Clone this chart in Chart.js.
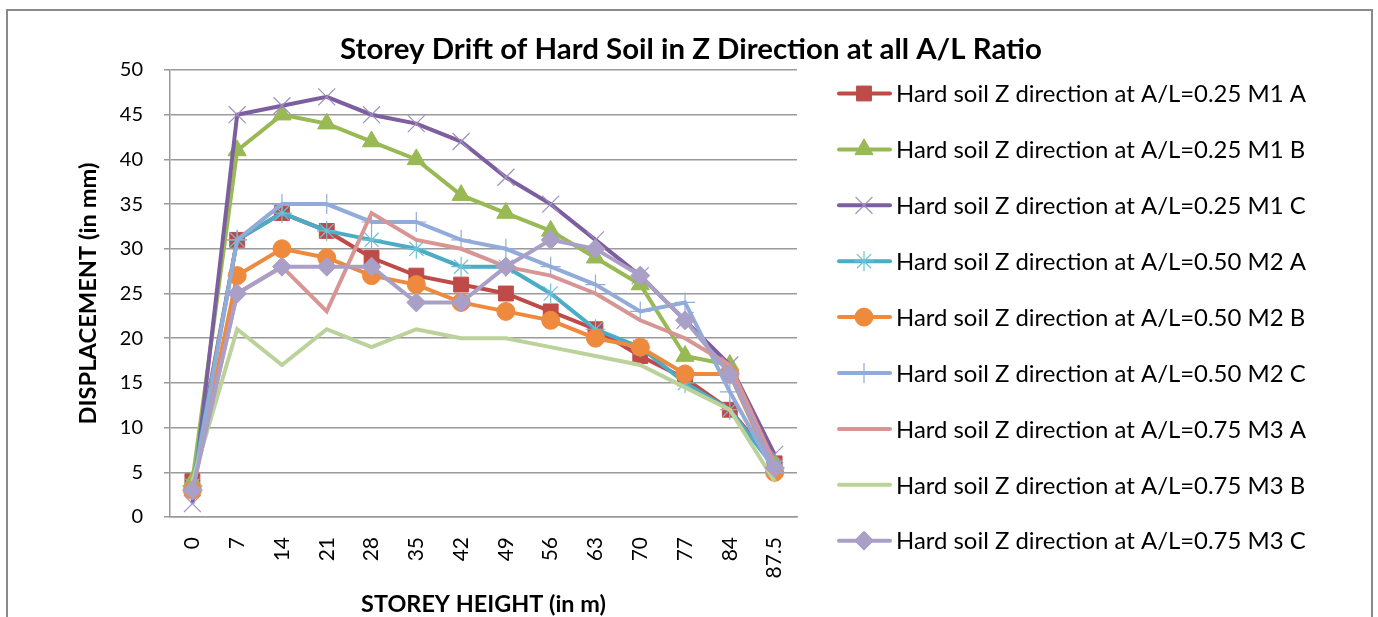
<!DOCTYPE html>
<html><head><meta charset="utf-8">
<script src="https://cdn.jsdelivr.net/npm/chart.js@4.4.1/dist/chart.umd.min.js"></script>
<style>html,body{margin:0;padding:0;background:#fff;overflow:hidden}</style>
</head><body>
<canvas id="c" width="1378" height="617" style="display:block;width:1378px;height:617px"></canvas>
<script>
// ---- data ----
const categories = ['0','7','14','21','28','35','42','49','56','63','70','77','84','87.5'];
const seriesNames = [
  'Hard soil Z direction at A/L=0.25 M1 A',
  'Hard soil Z direction at A/L=0.25 M1 B',
  'Hard soil Z direction at A/L=0.25 M1 C',
  'Hard soil Z direction at A/L=0.50 M2 A',
  'Hard soil Z direction at A/L=0.50 M2 B',
  'Hard soil Z direction at A/L=0.50 M2 C',
  'Hard soil Z direction at A/L=0.75 M3 A',
  'Hard soil Z direction at A/L=0.75 M3 B',
  'Hard soil Z direction at A/L=0.75 M3 C'
];
const m1a = [4, 31, 34, 32, 29, 27, 26, 25, 23, 21, 18, 15.5, 12, 6];
const m1b = [4, 41, 45, 44, 42, 40, 36, 34, 32, 29, 26, 18, 17, 6];
const m1c = [1.5, 45, 46, 47, 45, 44, 42, 38, 35, 31, 27, 22, 17, 7];
const m2a = [3.5, 31, 34, 32, 31, 30, 28, 28, 25, 21, 19, 15, 12, 5.5];
const m2b = [3, 27, 30, 29, 27, 26, 24, 23, 22, 20, 19, 16, 16, 5];
const m2c = [3, 31, 35, 35, 33, 33, 31, 30, 28, 26, 23, 24, 14, 5];
const m3a = [3, 25, 28, 23, 34, 31, 30, 28, 27, 25, 22, 20, 17, 6];
const m3b = [4, 21, 17, 21, 19, 21, 20, 20, 19, 18, 17, 14.5, 12, 4];
const m3c = [3, 25, 28, 28, 28, 24, 24, 28, 31, 30, 27, 22, 16, 5.5];
const seriesValues = [m1a, m1b, m1c, m2a, m2b, m2c, m3a, m3b, m3c];
const yMin = 0, yMax = 50, yStep = 5;
const chartTitle = 'Storey Drift of Hard Soil in Z Direction at all A/L Ratio';
const xTitle = 'STOREY HEIGHT (in m)';
const yTitle = 'DISPLACEMENT (in mm)';

// ---- styles ----
const colors = ['#BE4B48','#98B954','#7D5FA0','#4AACC5','#EE8A3E','#92ACDA','#D79593','#BBD29B','#AA9FC6'];
const markerColors = ['#BE4B48','#98B954','#A08FC2','#6EC0D6','#EE8A3E','#92ACDA','#D79593','#BBD29B','#AA9FC6'];
const pStyles = ['rect','triangle','crossRot','star','circle','cross',false,false,'rectRot'];
const pRadius = [10.5, 10.5, 12, 10, 9, 10, 0, 0, 9.5];
const pBorder = [1, 1, 1.2, 1.2, 1, 1.2, 0, 0, 1];
const FONT = 'Lato, "Liberation Sans", sans-serif';

const datasets = seriesValues.map((vals, i) => ({
  label: seriesNames[i],
  data: vals,
  borderColor: colors[i],
  backgroundColor: colors[i],
  borderWidth: 4,
  pointStyle: pStyles[i] || 'circle',
  pointRadius: pRadius[i],
  pointHoverRadius: pRadius[i],
  pointBorderWidth: pBorder[i],
  pointBackgroundColor: markerColors[i],
  pointBorderColor: markerColors[i],
  tension: 0,
  order: -i
}));

function fitSize(ctx, text, weight, target) {
  ctx.font = weight + ' 40px ' + FONT;
  const w = ctx.measureText(text).width;
  return 40 * target / w;
}

const deco = {
  id: 'deco',
  beforeDraw(chart) {
    const ctx = chart.ctx;
    ctx.save();
    ctx.fillStyle = '#fff';
    ctx.fillRect(0, 0, chart.width, chart.height);
    ctx.restore();
  },
  afterDraw(chart) {
    const ctx = chart.ctx;
    const area = chart.chartArea;
    ctx.save();
    // outer border
    ctx.strokeStyle = '#8a8a8a';
    ctx.lineWidth = 2;
    ctx.strokeRect(7, 10, 1365, 660);

    ctx.fillStyle = '#000';
    ctx.textBaseline = 'middle';
    // title
    let s = fitSize(ctx, chartTitle, 'bold', 702);
    ctx.font = 'bold ' + s + 'px ' + FONT;
    ctx.textAlign = 'center';
    ctx.fillText(chartTitle, 691, 50);

    // x title
    s = fitSize(ctx, xTitle, 'bold', 245);
    ctx.font = 'bold ' + s + 'px ' + FONT;
    ctx.fillText(xTitle, (area.left + area.right) / 2, 604);

    // y title
    s = fitSize(ctx, yTitle, 'bold', 262);
    ctx.save();
    ctx.translate(88, (area.top + area.bottom) / 2);
    ctx.rotate(-Math.PI / 2);
    ctx.font = 'bold ' + s + 'px ' + FONT;
    ctx.fillText(yTitle, 0, 0);
    ctx.restore();

    // legend
    const ls = fitSize(ctx, seriesNames[0], 'normal', 410);
    ctx.textAlign = 'left';
    seriesNames.forEach((name, i) => {
      const y = 93.5 + 55.9 * i;
      ctx.strokeStyle = colors[i];
      ctx.lineWidth = 4;
      ctx.lineCap = 'round';
      ctx.beginPath();
      ctx.moveTo(839, y);
      ctx.lineTo(890, y);
      ctx.stroke();
      if (pStyles[i] && Chart.helpers && Chart.helpers.drawPoint) {
        ctx.fillStyle = markerColors[i];
        ctx.strokeStyle = markerColors[i];
        ctx.lineWidth = pBorder[i];
        ctx.lineCap = 'butt';
        Chart.helpers.drawPoint(ctx, {pointStyle: pStyles[i], radius: pRadius[i], rotation: 0, borderWidth: pBorder[i]}, 864, y);
      }
      ctx.fillStyle = '#000';
      ctx.font = ls + 'px ' + FONT;
      ctx.fillText(name, 896, y + 1);
    });
    ctx.restore();
  }
};

new Chart(document.getElementById('c'), {
  type: 'line',
  data: { labels: categories, datasets },
  options: {
    responsive: false,
    animation: false,
    devicePixelRatio: 1,
    layout: { padding: { left: 0, top: 70, right: 581, bottom: 0 } },
    plugins: { legend: { display: false }, title: { display: false }, tooltip: { enabled: false } },
    scales: {
      x: {
        type: 'category',
        offset: true,
        grid: { display: false, drawTicks: false },
        border: { display: true, color: '#999', width: 1.5 },
        ticks: { autoSkip: false, minRotation: 90, maxRotation: 90, padding: 20, color: '#000', font: { family: FONT, size: 21 } },
        afterFit(s) { s.height = 100; }
      },
      y: {
        min: yMin, max: yMax,
        grid: { color: '#9a9a9a', lineWidth: 1.5, drawTicks: true, tickLength: 6 },
        border: { display: true, color: '#999', width: 1.5 },
        ticks: { stepSize: yStep, padding: 21, color: '#000', font: { family: FONT, size: 20 } },
        afterFit(s) { s.width = 170; }
      }
    }
  },
  plugins: [deco]
});
</script>
</body></html>
